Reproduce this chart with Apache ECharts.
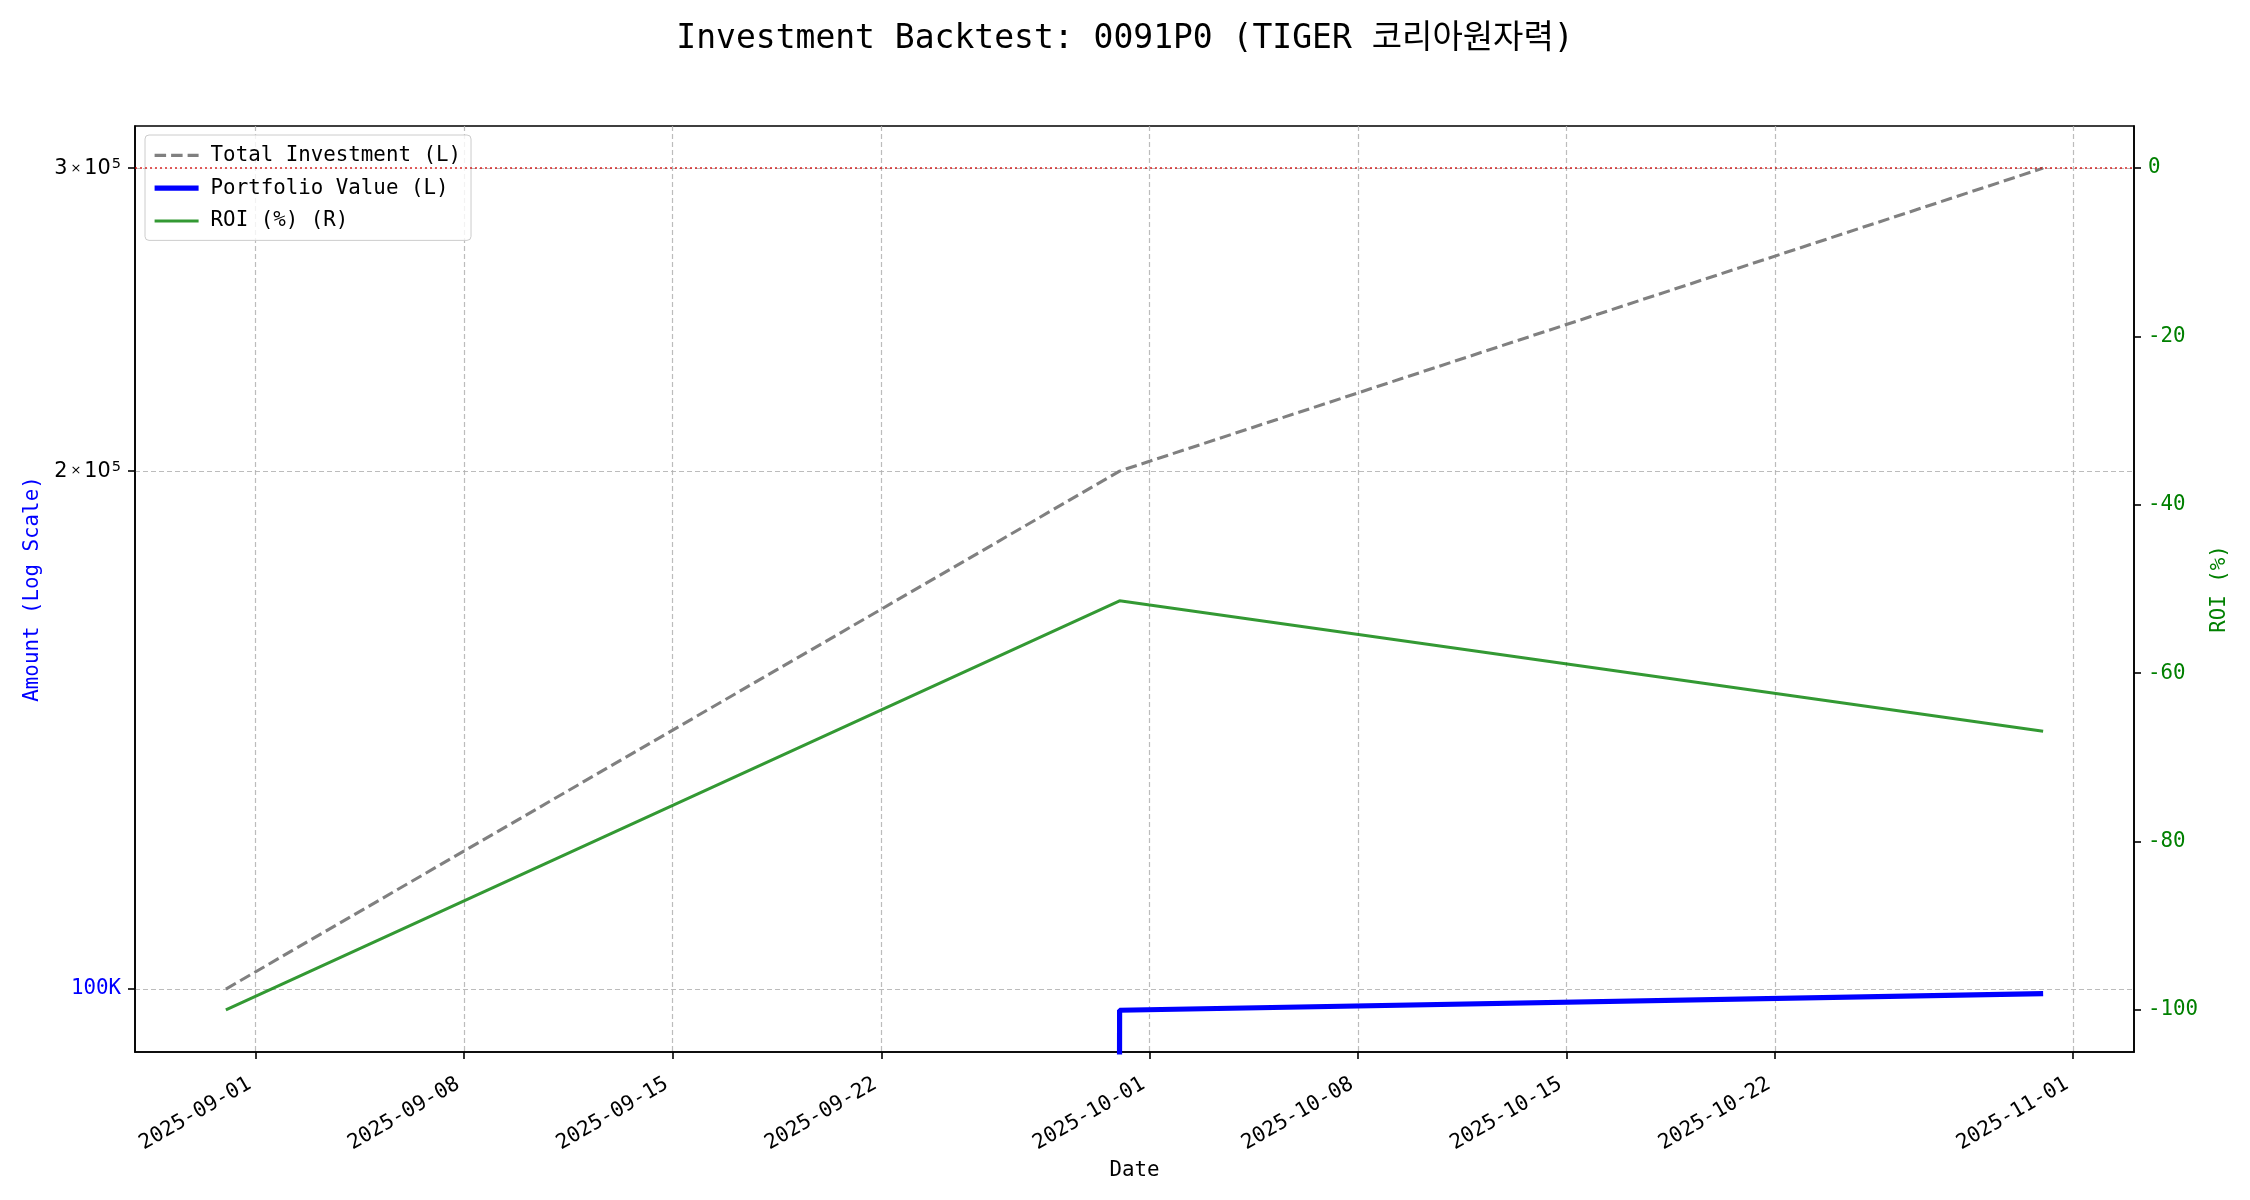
<!DOCTYPE html>
<html>
<head>
<meta charset="utf-8">
<script src="https://cdn.jsdelivr.net/npm/echarts@6/dist/echarts.min.js"></script>
<style>
html,body{margin:0;padding:0;background:#fff;}
#chart{width:2250px;height:1200px;}
</style>
</head>
<body>
<div id="chart"></div>
<script>
// ---- data ----
const dates = ['2025-08-31', '2025-09-30', '2025-10-31'];
const totalInvestment = [100000, 200000, 300000];
const portfolioValue = [0, 97200, 99400];
const roiPct = [-100, -51.4, -66.9];
const xTickDates = ['2025-09-01', '2025-09-08', '2025-09-15', '2025-09-22', '2025-10-01', '2025-10-08', '2025-10-15', '2025-10-22', '2025-11-01'];
const leftTickValues = [100000, 200000, 300000];
const leftTickMantissa = ['100K', '2', '3'];   // 100K, 2×10^5, 3×10^5
const leftTickExponent = 5;
const rightTickValues = [-100, -80, -60, -40, -20, 0];

const MONO = '"DejaVu Sans Mono", "Noto Sans CJK KR", monospace';
const SANS = '"DejaVu Sans", sans-serif';
function ts(s) { return new Date(s + 'T00:00:00').getTime(); }
function pad2(n) { return (n < 10 ? '0' : '') + n; }
function fmtDate(v) { const d = new Date(v); return d.getFullYear() + '-' + pad2(d.getMonth() + 1) + '-' + pad2(d.getDate()); }

const t0 = ts(dates[0]), t1 = ts(dates[dates.length - 1]);
const xMargin = (t1 - t0) * 0.05;

// log axis cannot place 0: like matplotlib's log clipping, send it far below the axis
const logSafe = v => (v > 0 ? v : 1e-300);

const chart = echarts.init(document.getElementById('chart'), null, {renderer: 'canvas'});
chart.setOption({
  animation: false,
  backgroundColor: '#fff',
  title: {
    text: 'Investment Backtest: 0091P0 (TIGER 코리아원자력)',
    left: 'center', top: 18,
    textStyle: {fontFamily: MONO, fontSize: 33, fontWeight: 'normal', color: '#000'}
  },
  legend: {
    orient: 'vertical', left: 145, top: 135,
    padding: [10, 10, 9, 7], itemGap: 12, itemWidth: 44, itemHeight: 14,
    backgroundColor: 'rgba(255,255,255,0.8)', borderColor: '#cccccc', borderWidth: 1, borderRadius: 4,
    itemStyle: {opacity: 0},
    textStyle: {fontFamily: MONO, fontSize: 20.8, color: '#000', padding: [0, 0, 0, 7]},
    data: [
      {name: 'Total Investment (L)', lineStyle: {width: 3.1, color: '#808080', type: [11.5, 5]}},
      {name: 'Portfolio Value (L)', lineStyle: {width: 5.2, color: '#0000ff'}},
      {name: 'ROI (%) (R)', lineStyle: {width: 3.1, color: 'rgba(0,128,0,0.8)'}}
    ]
  },
  grid: {left: 135, right: 116, top: 126, bottom: 148, show: true, borderColor: '#000', borderWidth: 1.6, backgroundColor: 'transparent'},
  xAxis: {
    type: 'value',
    min: t0 - xMargin, max: t1 + xMargin,
    name: 'Date', nameLocation: 'middle', nameGap: 102,
    nameTextStyle: {fontFamily: MONO, fontSize: 20.8, color: '#000'},
    axisLine: {show: true, onZero: false, lineStyle: {color: '#000', width: 1.6}},
    axisTick: {show: true, length: 7, lineStyle: {color: '#000', width: 1.6}, customValues: xTickDates.map(ts)},
    axisLabel: {
      customValues: xTickDates.map(ts), rotate: 30, margin: 27, padding: [0, 7, 0, 0],
      fontFamily: MONO, fontSize: 20.8, color: '#000',
      formatter: v => fmtDate(v)
    },
    splitLine: {show: true, lineStyle: {color: 'rgba(176,176,176,0.85)', width: 1.2, type: [5, 3]}}
  },
  yAxis: [
    {
      type: 'log', logBase: 10, min: 91920, max: 317400, position: 'left',
      name: 'Amount (Log Scale)', nameLocation: 'middle', nameGap: 90, nameRotate: 90,
      nameTextStyle: {fontFamily: MONO, fontSize: 20.8, color: '#0000ff'},
      axisLine: {show: true, lineStyle: {color: '#000', width: 1.6}},
      axisTick: {show: true, length: 7, lineStyle: {color: '#000', width: 1.6}, customValues: leftTickValues},
      axisLabel: {
        customValues: leftTickValues, margin: 14,
        formatter: v => {
          const i = leftTickValues.findIndex(t => Math.abs(t - v) / t < 1e-6);
          if (i < 0) return '';
          if (i === 0) return '{b|' + leftTickMantissa[i] + '}';
          return '{k|' + leftTickMantissa[i] + '}{x|×}{k|10}{s|' + leftTickExponent + '}';
        },
        rich: {
          b: {fontFamily: MONO, fontSize: 20.8, color: '#0000ff', height: 30},
          k: {fontFamily: SANS, fontSize: 20.8, color: '#000', height: 30},
          x: {fontFamily: SANS, fontSize: 13, color: '#000', padding: [0, 3, 0, 3], height: 30},
          s: {fontFamily: SANS, fontSize: 14.5, color: '#000', verticalAlign: 'top', height: 16, padding: [3, 0, 0, 1]}
        }
      },
      splitLine: {show: true, lineStyle: {color: 'rgba(176,176,176,0.85)', width: 1.2, type: [5, 3]}}
    },
    {
      type: 'value', min: -105, max: 5, position: 'right',
      name: 'ROI (%)', nameLocation: 'middle', nameGap: 69, nameRotate: 90,
      nameTextStyle: {fontFamily: MONO, fontSize: 20.8, color: '#008000', verticalAlign: 'top'},
      axisLine: {show: true, lineStyle: {color: '#000', width: 1.6}},
      axisTick: {show: true, length: 7, lineStyle: {color: '#000', width: 1.6}, customValues: rightTickValues},
      axisLabel: {customValues: rightTickValues, margin: 14, fontFamily: MONO, fontSize: 20.8, color: '#008000'},
      splitLine: {show: false}
    }
  ],
  series: [
    {
      name: 'Total Investment (L)', type: 'line', yAxisIndex: 0, symbol: 'none',
      data: dates.map((d, i) => [ts(d), totalInvestment[i]]),
      lineStyle: {color: '#808080', width: 3.1, type: [11.5, 5]},
      itemStyle: {color: '#808080'}
    },
    {
      name: 'Portfolio Value (L)', type: 'line', yAxisIndex: 0, symbol: 'none',
      data: dates.map((d, i) => [ts(d), logSafe(portfolioValue[i])]),
      lineStyle: {color: '#0000ff', width: 5.2},
      itemStyle: {color: '#0000ff'}
    },
    {
      name: 'ROI (%) (R)', type: 'line', yAxisIndex: 1, symbol: 'none',
      data: dates.map((d, i) => [ts(d), roiPct[i]]),
      lineStyle: {color: 'rgba(0,128,0,0.8)', width: 3.1},
      itemStyle: {color: 'rgba(0,128,0,0.8)'},
      markLine: {
        silent: true, symbol: 'none', label: {show: false},
        lineStyle: {color: 'rgba(210,0,0,0.85)', width: 1.6, type: [2, 3]},
        data: [{yAxis: 0}]
      }
    }
  ]
});
</script>
</body>
</html>
